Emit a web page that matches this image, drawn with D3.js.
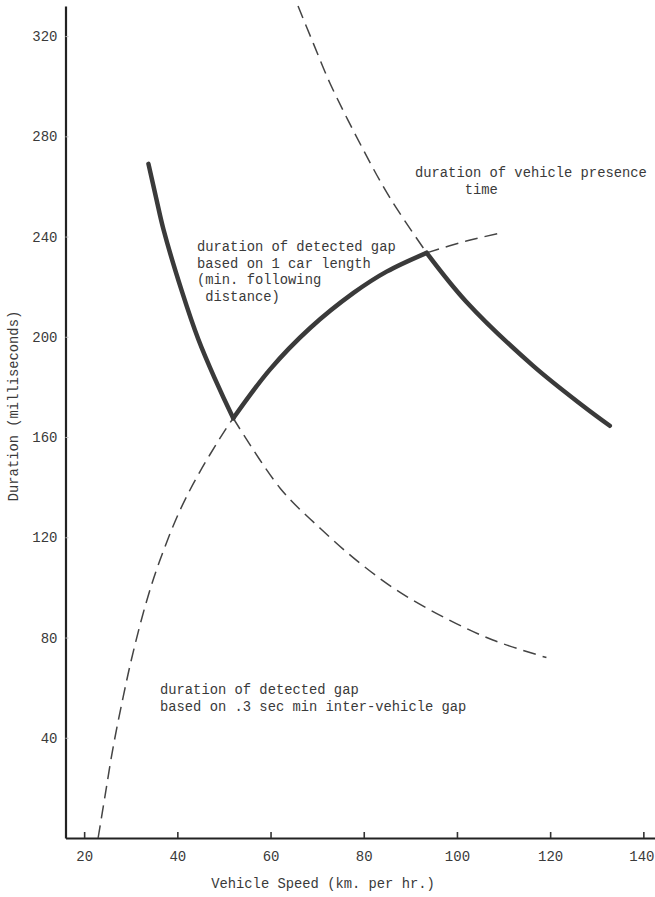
<!DOCTYPE html>
<html lang="en">
<head>
    <meta charset="UTF-8">
    <title>Duration vs Vehicle Speed</title>
    <script src="https://d3js.org/d3.v7.min.js"></script>
    <style>
        body { margin: 0; background: #fff; }
        svg { display: block; }
        text { font-family: "Liberation Mono", "DejaVu Sans Mono", monospace; fill: #3a3a3a; }
        .tick text { font-size: 14px; }
        .note { font-size: 13.8px; }
        .axis-title { font-size: 13.8px; }
    </style>
</head>
<body>
    <svg id="chart" width="655" height="897"></svg>

    <script>
        // axis setup
        const speedDomain = [16, 142.5];
        const durationDomain = [0, 332];
        const xTicks = [20, 40, 60, 80, 100, 120, 140];
        const yTicks = [40, 80, 120, 160, 200, 240, 280, 320];

        // [speed km/h, duration ms]
        // gap based on 1 car length (falls with speed)
        const carGapSolid = [[33.8, 269], [35.5, 255], [37, 243], [41, 218], [44.5, 199], [48, 183.5], [52, 167.5]];
        const carGapDashed = [[52, 167.5], [62.1, 139.5], [70.7, 123.5], [79.3, 109.5], [87.8, 98], [97.8, 87.5], [107.7, 79], [119.2, 72]];

        // gap based on .3 sec min inter-vehicle gap (rises with speed)
        const timeGapDashed = [[23, 0], [24.5, 17], [26.2, 36], [28.4, 56.5], [30.5, 74], [33.4, 94.5],
                               [36.2, 110.5], [40.5, 130.5], [44.8, 146], [50.5, 163.5], [52, 167.5]];
        const timeGapSolid = [[52, 167.5], [59.9, 187], [68.5, 203.5], [77.8, 217.5], [84.9, 226], [93.5, 233.5]];
        const timeGapExtra = [[93.5, 233.5], [102, 238.2], [109.6, 241.5]];

        // vehicle presence time
        const presenceDashed = [[65.9, 332], [69.2, 317], [72.8, 301], [79.8, 275], [85.6, 255.5], [93.5, 233.5]];
        const presenceSolid = [[93.5, 233.5], [102, 214], [116.3, 188.5], [127, 172.5], [132.8, 164.5]];

        const svg = d3.select("#chart");

        const x = d3.scaleLinear().domain(speedDomain).range([65.5, 655]);
        const y = d3.scaleLinear().domain(durationDomain).range([838, 6]);

        // x axis
        const xAxis = svg.append("g")
            .attr("transform", `translate(0,${y(0)})`)
            .call(d3.axisBottom(x).tickValues(xTicks).tickSize(-6).tickSizeOuter(0).tickPadding(13));
        xAxis.select(".domain").attr("stroke", "#222").attr("stroke-width", 2);
        xAxis.selectAll(".tick line").attr("stroke", "#333").attr("stroke-width", 1.6);
        // last label sits against the right edge
        xAxis.selectAll(".tick text").filter(d => d === 140).attr("dx", -2);

        // y axis
        const yAxis = svg.append("g")
            .attr("transform", `translate(${x(speedDomain[0])},0)`)
            .call(d3.axisLeft(y).tickValues(yTicks).tickSize(-3).tickSizeOuter(0).tickPadding(8));
        yAxis.select(".domain").attr("stroke", "#222").attr("stroke-width", 2.2);
        yAxis.selectAll(".tick line").attr("stroke", "#bbb").attr("stroke-width", 1);

        svg.selectAll(".tick text").attr("fill", "#3a3a3a").style("font-family", "Liberation Mono, monospace");

        // axis titles
        svg.append("text")
            .attr("class", "axis-title")
            .attr("x", 323)
            .attr("y", 888)
            .attr("text-anchor", "middle")
            .text("Vehicle Speed (km. per hr.)");

        svg.append("text")
            .attr("class", "axis-title")
            .attr("transform", "translate(18,406) rotate(-90)")
            .attr("text-anchor", "middle")
            .text("Duration (milliseconds)");

        // curves
        const line = d3.line()
            .x(d => x(d[0]))
            .y(d => y(d[1]))
            .curve(d3.curveCatmullRom.alpha(0.5));

        const dashed = [carGapDashed, timeGapDashed, timeGapExtra, presenceDashed];
        const solid = [carGapSolid, timeGapSolid, presenceSolid];

        svg.append("g")
            .selectAll("path")
            .data(dashed)
            .join("path")
            .attr("d", line)
            .attr("fill", "none")
            .attr("stroke", "#444")
            .attr("stroke-width", 1.5)
            .attr("stroke-dasharray", "13,7");

        svg.append("g")
            .selectAll("path")
            .data(solid)
            .join("path")
            .attr("d", line)
            .attr("fill", "none")
            .attr("stroke", "#3a3a3a")
            .attr("stroke-width", 4.5)
            .attr("stroke-linecap", "round")
            .attr("stroke-linejoin", "round");

        // annotations
        const notes = [
            { x: 197, y: 251, lines: ["duration of detected gap", "based on 1 car length", "(min. following", " distance)"] },
            { x: 415, y: 177, lines: ["duration of vehicle presence", "      time"] },
            { x: 160, y: 694, lines: ["duration of detected gap", "based on .3 sec min inter-vehicle gap"] }
        ];

        notes.forEach(n => {
            svg.append("text")
                .attr("class", "note")
                .attr("x", n.x)
                .attr("y", n.y)
                .attr("xml:space", "preserve")
                .style("white-space", "pre")
                .selectAll("tspan")
                .data(n.lines)
                .join("tspan")
                .attr("x", n.x)
                .attr("dy", (d, i) => i === 0 ? 0 : 16.6)
                .text(d => d);
        });
    </script>
</body>
</html>
